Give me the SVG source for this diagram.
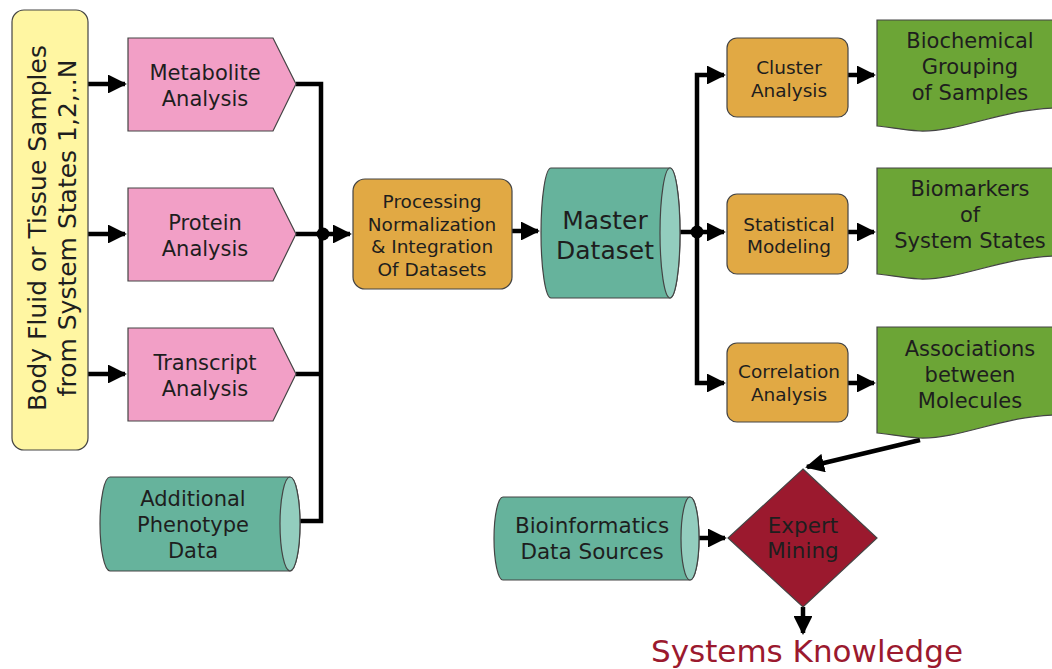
<svg xmlns="http://www.w3.org/2000/svg" width="1052" height="669" viewBox="0 0 1052 669">
<defs>
<marker id="ah" viewBox="0 0 10 10" refX="9" refY="5" markerWidth="4.2" markerHeight="4.2" orient="auto" markerUnits="strokeWidth">
<path d="M0,0 L10,5 L0,10 Z" fill="#000"/>
</marker>
<style>
text{font-family:"DejaVu Sans","Verdana",sans-serif;fill:#1e1e1e;text-anchor:middle}
.sh{stroke:#444;stroke-width:1.2}
.yel{fill:#FFF6A2}
.pink{fill:#F29FC6}
.org{fill:#E1A944}
.teal{fill:#66B39C}
.tend{fill:#93CDBE}
.grn{fill:#6CA536}
.red{fill:#9B192E}
.ln{fill:none;stroke:#000;stroke-width:4.5}
.ar{fill:none;stroke:#000;stroke-width:4.5;marker-end:url(#ah)}
</style>
</defs>
<g id="connectors">
<path class="ar" d="M88,84 H125"/>
<path class="ar" d="M88,234 H125"/>
<path class="ar" d="M88,374 H125"/>
<path class="ln" d="M296,84 H321 V521 H287"/>
<path class="ln" d="M296,234 H321"/>
<path class="ln" d="M296,374 H321"/>
<circle cx="323" cy="234" r="6.5" fill="#000"/>
<path class="ar" d="M323,234 H350"/>
<path class="ar" d="M512,231 H538"/>
<path class="ln" d="M672,232 H697"/>
<circle cx="697" cy="232" r="6.5" fill="#000"/>
<path class="ar" d="M697,232 V75 H724"/>
<path class="ar" d="M697,232 V383 H724"/>
<path class="ar" d="M697,232 H724"/>
<path class="ar" d="M848,75 H874"/>
<path class="ar" d="M848,232 H874"/>
<path class="ar" d="M848,383 H874"/>
<path class="ar" d="M920,440 L807,467"/>
<path class="ar" d="M688,538 H725"/>
<path class="ar" d="M803,607 V633"/>
</g>
<g id="samples">
<rect class="yel sh" x="12" y="10" width="76" height="440" rx="12"/>
<text transform="translate(37,228) rotate(-90)" font-size="25" dy="9">Body Fluid or Tissue Samples</text>
<text transform="translate(67,228) rotate(-90)" font-size="25" dy="9">from System States 1,2,..N</text>
</g>
<g id="metabolite">
<path class="pink sh" d="M128,38 H273 L296,84 L273,131 H128 Z"/>
<text x="205" y="80" font-size="21">Metabolite</text>
<text x="205" y="106" font-size="21">Analysis</text>
</g>
<g id="protein">
<path class="pink sh" d="M128,188 H273 L296,234 L273,281 H128 Z"/>
<text x="205" y="230" font-size="21">Protein</text>
<text x="205" y="256" font-size="21">Analysis</text>
</g>
<g id="transcript">
<path class="pink sh" d="M128,328 H273 L296,374 L273,421 H128 Z"/>
<text x="205" y="370" font-size="21">Transcript</text>
<text x="205" y="396" font-size="21">Analysis</text>
</g>
<g id="phenotype">
<path class="teal sh" d="M110,477 H290 A10,47 0 0 1 290,571 H110 A10,47 0 0 1 110,477 Z"/>
<ellipse class="tend sh" cx="290" cy="524" rx="10" ry="47"/>
<text x="193" y="506" font-size="21">Additional</text>
<text x="193" y="532" font-size="21">Phenotype</text>
<text x="193" y="558" font-size="21">Data</text>
</g>
<g id="processing">
<rect class="org sh" x="353" y="179" width="159" height="110" rx="12"/>
<text x="432" y="208" font-size="18.5">Processing</text>
<text x="432" y="231" font-size="18.5">Normalization</text>
<text x="432" y="253" font-size="18.5">&amp; Integration</text>
<text x="432" y="276" font-size="18.5">Of Datasets</text>
</g>
<g id="master">
<path class="teal sh" d="M551,168 H670 A10,65 0 0 1 670,298 H551 A10,65 0 0 1 551,168 Z"/>
<ellipse class="tend sh" cx="670" cy="233" rx="10" ry="65"/>
<text x="605" y="229" font-size="25">Master</text>
<text x="605" y="259" font-size="25">Dataset</text>
</g>
<g id="cluster">
<rect class="org sh" x="727" y="38" width="121" height="79" rx="10"/>
<text x="789" y="74" font-size="18.5">Cluster</text>
<text x="789" y="97" font-size="18.5">Analysis</text>
</g>
<g id="statistical">
<rect class="org sh" x="727" y="194" width="121" height="80" rx="10"/>
<text x="789" y="231" font-size="18.5">Statistical</text>
<text x="789" y="253" font-size="18.5">Modeling</text>
</g>
<g id="correlation">
<rect class="org sh" x="727" y="343" width="121" height="79" rx="10"/>
<text x="789" y="378" font-size="18.5">Correlation</text>
<text x="789" y="401" font-size="18.5">Analysis</text>
</g>
<g id="biochemical">
<path class="grn sh" d="M877,20 H1053 V108 C1000,110 960,132 920,131 C900,130 890,127 877,126 Z"/>
<text x="970" y="48" font-size="21">Biochemical</text>
<text x="970" y="74" font-size="21">Grouping</text>
<text x="970" y="100" font-size="21">of Samples</text>
</g>
<g id="biomarkers">
<path class="grn sh" d="M877,168 H1053 V256 C1000,258 960,280 920,279 C900,278 890,275 877,274 Z"/>
<text x="970" y="196" font-size="21">Biomarkers</text>
<text x="970" y="222" font-size="21">of</text>
<text x="970" y="248" font-size="21">System States</text>
</g>
<g id="associations">
<path class="grn sh" d="M877,327 H1053 V415 C1000,417 960,439 920,438 C900,437 890,434 877,433 Z"/>
<text x="970" y="356" font-size="21">Associations</text>
<text x="970" y="382" font-size="21">between</text>
<text x="970" y="408" font-size="21">Molecules</text>
</g>
<g id="bioinformatics">
<path class="teal sh" d="M503,497 H690 A9,41.5 0 0 1 690,580 H503 A9,41.5 0 0 1 503,497 Z"/>
<ellipse class="tend sh" cx="690" cy="538.5" rx="9" ry="41.5"/>
<text x="592" y="533" font-size="21.5">Bioinformatics</text>
<text x="592" y="559" font-size="21.5">Data Sources</text>
</g>
<g id="expert">
<path class="red sh" d="M803,469 L877,538 L803,607 L728,538 Z"/>
<text x="803" y="533" font-size="21.5">Expert</text>
<text x="803" y="558" font-size="21.5">Mining</text>
</g>
<g id="knowledge">
<text x="807" y="662" font-size="31" style="fill:#9B192E">Systems Knowledge</text>
</g>
</svg>
